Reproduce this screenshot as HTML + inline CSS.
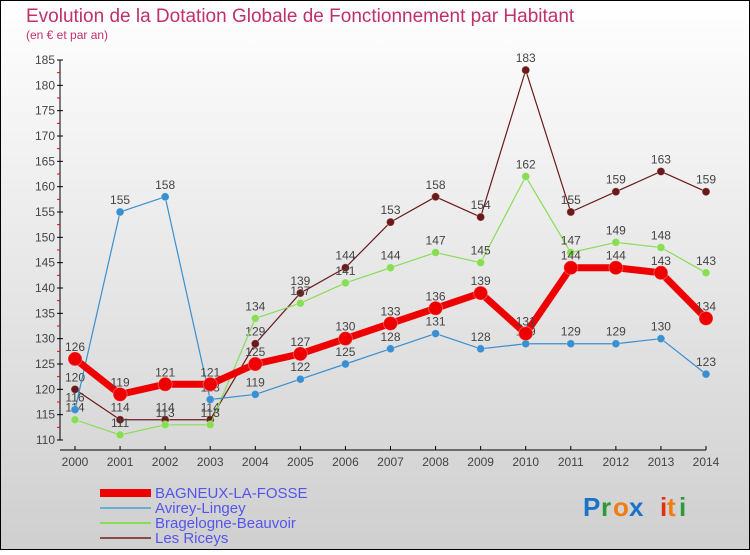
<!DOCTYPE html>
<html><head><meta charset="utf-8"><style>
body{margin:0;width:750px;height:550px;overflow:hidden;font-family:"Liberation Sans",sans-serif}
svg text{font-family:"Liberation Sans",sans-serif}
</style></head><body>
<svg id="c" width="750" height="550" xmlns="http://www.w3.org/2000/svg">
<defs><linearGradient id="bg" x1="0" y1="0" x2="0" y2="1"><stop offset="0" stop-color="#ffffff"/><stop offset="1" stop-color="#cfcfcf"/></linearGradient></defs>
<rect x="0.5" y="0.5" width="749" height="549" fill="url(#bg)" stroke="#000"/>
<text x="26" y="22" font-size="19" fill="#c0306a">Evolution de la Dotation Globale de Fonctionnement par Habitant</text>
<text x="26" y="39" font-size="12" fill="#c0306a">(en € et par an)</text>
<g id="axes"></g><g id="series"></g><g id="legend"></g>
<g font-size="26" font-weight="bold">
<text x="583" y="516" fill="#1a73c8">P</text><text x="601" y="516" fill="#2a9a3a">r</text><text x="613" y="516" fill="#f07d10">o</text><text x="629" y="516" fill="#1a73c8">x</text><text x="660" y="516" fill="#e03010">i</text><text x="667" y="516" fill="#f07d10">t</text><text x="679" y="516" fill="#2a9a3a">i</text>
</g>
</svg>
<script>
const years=["2000","2001","2002","2003","2004","2005","2006","2007","2008","2009","2010","2011","2012","2013","2014"];
const yTicks=[110,115,120,125,130,135,140,145,150,155,160,165,170,175,180,185];
const bagneux=[126,119,121,121,125,127,130,133,136,139,131,144,144,143,134];
const avirey=[116,155,158,118,119,122,125,128,131,128,129,129,129,130,123];
const bragelogne=[114,111,113,113,134,137,141,144,147,145,162,147,149,148,143];
const riceys=[120,114,114,114,129,139,144,153,158,154,183,155,159,163,159];
const NS="http://www.w3.org/2000/svg";
const xS=i=>75+i*(706-75)/14;
const yS=v=>440-(v-110)*(380/75);
function mk(t,a,p){const e=document.createElementNS(NS,t);for(const k in a)e.setAttribute(k,a[k]);p.appendChild(e);return e;}
const ax=document.getElementById('axes');
const yl=mk('line',{x1:60,y1:60,x2:60,y2:440,stroke:'#000'},ax);


const xl=mk('line',{x1:60,y1:450,x2:706,y2:450,stroke:'#000'},ax);


yTicks.forEach(v=>{
 mk('line',{x1:57,x2:63,y1:yS(v),y2:yS(v),stroke:'#000'},ax);
 if(v<185) mk('line',{x1:57,x2:60,y1:yS(v+2.5),y2:yS(v+2.5),stroke:'#e00'},ax);
 const t=mk('text',{x:55,y:yS(v)+4,'font-size':12,fill:'#444','text-anchor':'end'},ax);t.textContent=v;
 
 
});
years.forEach((y,i)=>{
 mk('line',{x1:xS(i),x2:xS(i),y1:446,y2:450,stroke:'#000'},ax);
 const t=mk('text',{x:xS(i),y:466,'font-size':12,fill:'#444','text-anchor':'middle'},ax);t.textContent=y;
 
 
});
const sg=document.getElementById('series');
function draw(vals,color,w,r,name){
 const g=mk('g',{},sg);
 
 
 mk('polyline',{points:vals.map((v,i)=>xS(i)+','+yS(v)).join(' '),fill:'none',stroke:color,'stroke-width':w,'stroke-linejoin':'round'},g);
 vals.forEach((v,i)=>{
  const c=mk('circle',{cx:xS(i),cy:yS(v),r:r,fill:color,stroke:'#fff','stroke-opacity':0.3},g);
  
  
  const t=mk('text',{x:xS(i),y:yS(v)-8,'font-size':12,fill:'#444','text-anchor':'middle'},g);t.textContent=v;
  
  
 });
}
draw(riceys,'#6b1a1a',1.2,4,'les-riceys-series');
draw(bragelogne,'#88dd55',1.2,4,'bragelogne-series');
draw(avirey,'#3a8fd0',1.2,4,'avirey-series');
draw(bagneux,'#ee0000',7,7,'bagneux-series');
const lg=document.getElementById('legend');
const items=[["BAGNEUX-LA-FOSSE","#ee0000",8],["Avirey-Lingey","#6aaed8",2],["Bragelogne-Beauvoir","#88dd55",2],["Les Riceys","#8b4a4a",2]];
items.forEach((it,k)=>{
 const y=493+k*15;
 const g=mk('g',{},lg);
 
 
 mk('line',{x1:100,x2:151,y1:y,y2:y,stroke:it[1],'stroke-width':it[2]},g);
 const t=mk('text',{x:155,y:y+5,'font-size':15,fill:'#5555ee'},g);t.textContent=it[0];
});
</script>
</body></html>
